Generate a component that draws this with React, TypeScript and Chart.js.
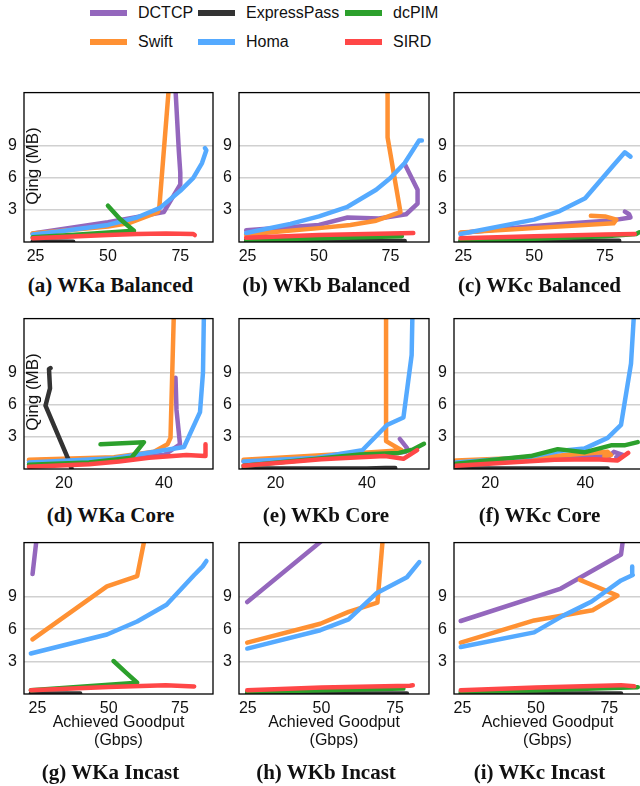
import React, { useEffect, useRef } from 'react';
import { Chart, registerables } from 'chart.js';
Chart.register(...registerables);

type Pt = [number, number];

// ---- series / colours ----
const LEGEND_ROW1 = ['DCTCP', 'ExpressPass', 'dcPIM'];
const LEGEND_ROW2 = ['Swift', 'Homa', 'SIRD'];
const COLORS: Record<string, string> = {
  DCTCP: '#9467bd',
  ExpressPass: '#333333',
  dcPIM: '#2ca02c',
  Swift: '#ff9133',
  Homa: '#55aaff',
  SIRD: '#ff4747',
};
// drawing order: first = on top
const DRAW_ORDER = ['SIRD', 'dcPIM', 'Homa', 'ExpressPass', 'Swift', 'DCTCP'];

// ---- tick labels ----
const GOODPUT_TICKS = [25, 50, 75];
const CORE_TICKS = [20, 40];
const QUEUE_TICKS = [3, 6, 9];

// ---- data: [achieved goodput (Gbps), Qing (MB)] ----
const wkaBalanced: Record<string, Pt[]> = {
  DCTCP: [[24, 0.8], [50, 1.85], [69.3, 2.8], [75, 5.4], [75, 6.5], [74.5, 8.5], [73.2, 15]],
  ExpressPass: [[24, 0.05], [30, 0.05], [38, 0.03]],
  dcPIM: [[24, 0.45], [40, 0.7], [59, 1.05], [57, 1.5], [54, 2.2], [50, 3.4]],
  Swift: [[24, 0.8], [50, 1.45], [57, 1.75], [67.3, 2.8], [67.8, 3.4], [71.2, 15]],
  Homa: [[24, 0.7], [35, 1.05], [50, 1.6], [60, 2.3], [68, 3.2], [75, 4.8], [79.5, 6.0], [82.5, 7.4], [84, 8.6], [83.5, 8.8]],
  SIRD: [[24, 0.35], [40, 0.55], [50, 0.65], [60, 0.75], [70, 0.8], [79.5, 0.75], [80, 0.65]],
};
const wkbBalanced: Record<string, Pt[]> = {
  DCTCP: [[24.5, 1.1], [50, 1.6], [60, 2.3], [71, 2.2], [80.5, 2.6], [84.5, 3.6], [84.5, 4.9], [80, 7.3]],
  ExpressPass: [[24.5, 0.05], [50, 0.05], [75, 0.1], [80, 0.1]],
  dcPIM: [[24.5, 0.2], [50, 0.35], [79, 0.55]],
  Swift: [[24.5, 0.7], [50, 1.3], [61, 1.6], [70, 2.0], [78.5, 2.8], [74, 9.8], [74, 15]],
  Homa: [[24.5, 0.85], [40, 1.7], [50, 2.4], [60, 3.3], [70, 4.9], [75, 6.0], [80, 7.4], [85, 9.5], [86, 9.5]],
  SIRD: [[24.5, 0.4], [50, 0.65], [75, 0.8], [83, 0.85]],
};
const wkcBalanced: Record<string, Pt[]> = {
  DCTCP: [[24, 0.85], [50, 1.5], [78, 2.05], [84, 2.3], [83.5, 2.6], [82, 2.85]],
  ExpressPass: [[24, 0.05], [60, 0.05], [73, 0.12], [80, 0.12]],
  dcPIM: [[24, 0.15], [50, 0.3], [75, 0.55], [86, 0.75], [87, 0.9]],
  Swift: [[24, 0.9], [50, 1.3], [78, 1.75], [79, 2.1], [75, 2.4], [70, 2.45]],
  Homa: [[24, 0.75], [50, 2.1], [59, 2.9], [68, 4.1], [78, 7.2], [82, 8.4], [84, 8.0]],
  SIRD: [[24, 0.35], [50, 0.55], [75, 0.7], [85.5, 0.75]],
};
const wkaCore: Record<string, Pt[]> = {
  DCTCP: [[13, 0.8], [30, 1.0], [40, 1.3], [43.2, 2.3], [42.5, 5.5], [42.3, 8.5]],
  ExpressPass: [[21.5, 0.05], [21, 0.75], [16.3, 5.9], [16.8, 6.8], [17.2, 7.5], [17, 9.3], [17.3, 9.4]],
  dcPIM: [[13, 0.4], [25, 0.6], [33.5, 1.05], [36, 2.5], [27.3, 2.3]],
  Swift: [[13, 0.85], [30, 1.1], [38, 1.6], [40.7, 2.3], [41.3, 2.9], [42, 15]],
  Homa: [[13, 0.6], [30, 1.0], [44, 2.05], [47.2, 5.3], [47.8, 9], [48, 15]],
  SIRD: [[13, 0.2], [25, 0.45], [31, 0.7], [37, 1.05], [44.5, 1.3], [48.2, 1.2], [48.3, 2.3]],
};
const wkbCore: Record<string, Pt[]> = {
  DCTCP: [[13, 0.7], [30, 1.0], [45, 1.4], [48.5, 1.6], [48.8, 1.95], [47.2, 2.8]],
  ExpressPass: [[13, 0.05], [40, 0.05], [44, 0.1], [46.2, 0.1]],
  dcPIM: [[13, 0.3], [28, 0.9], [38.5, 1.35], [47, 1.5], [50, 1.8], [52.5, 2.35]],
  Swift: [[13, 0.85], [38.5, 1.5], [47.6, 1.75], [44.2, 2.6], [44.2, 15]],
  Homa: [[13, 0.7], [29, 1.05], [39, 1.75], [44.4, 4.1], [48, 4.8], [49.8, 10.6], [50, 15]],
  SIRD: [[13, 0.3], [30, 0.9], [38.5, 1.1], [44, 1.2], [48, 0.95], [51, 1.75]],
};
const wkcCore: Record<string, Pt[]> = {
  DCTCP: [[13, 0.6], [30, 0.9], [45, 1.2], [46, 1.6], [48, 1.3], [46.5, 1.1]],
  ExpressPass: [[13, 0.05], [40, 0.05], [44.7, 0.05]],
  dcPIM: [[12.8, 0.5], [28.5, 1.2], [34.2, 1.85], [39.8, 1.55], [45.4, 2.2], [48.2, 2.2], [51, 2.5]],
  Swift: [[12.8, 0.8], [30, 1.1], [44.7, 1.6], [45.4, 1.3], [44, 1.2]],
  Homa: [[12.8, 0.6], [28.6, 1.15], [35, 1.7], [39.8, 1.9], [44.7, 2.9], [47.5, 4.1], [49.6, 9.8], [50.3, 15]],
  SIRD: [[12.8, 0.3], [33.5, 0.85], [42, 0.9], [46.8, 0.8], [49, 1.5]],
};
const wkaIncast: Record<string, Pt[]> = {
  DCTCP: [[23.3, 11.1], [25, 15]],
  ExpressPass: [[22.7, 0.05], [40, 0.05]],
  dcPIM: [[22.7, 0.35], [60, 1.05], [56, 2.0], [51.7, 3.05]],
  Swift: [[23.3, 5.05], [49.4, 9.95], [60, 10.9], [63.1, 15]],
  Homa: [[22.7, 3.75], [49.4, 5.5], [60, 6.7], [70.3, 8.25], [80, 11], [83, 11.8], [84.3, 12.3]],
  SIRD: [[22.7, 0.35], [50, 0.65], [70, 0.82], [80, 0.7]],
};
const wkbIncast: Record<string, Pt[]> = {
  DCTCP: [[24.8, 8.5], [53.8, 15]],
  ExpressPass: [[24.8, 0.05], [79, 0.05]],
  dcPIM: [[24.8, 0.2], [50, 0.35], [77.8, 0.5]],
  Swift: [[24.8, 4.75], [49.6, 6.5], [59.2, 7.6], [69, 8.45], [71, 15]],
  Homa: [[24.8, 4.2], [49.6, 5.9], [59.2, 6.9], [68.8, 9.35], [79, 10.8], [83.2, 12.2]],
  SIRD: [[24.8, 0.35], [50, 0.6], [80, 0.77], [81, 0.8]],
};
const wkcIncast: Record<string, Pt[]> = {
  DCTCP: [[24.4, 6.75], [58.5, 9.75], [79, 12.9], [80, 15]],
  ExpressPass: [[24.4, 0.05], [79, 0.05]],
  dcPIM: [[24.4, 0.2], [50, 0.35], [84.7, 0.63]],
  Swift: [[24.4, 4.75], [49.4, 6.8], [69.3, 7.75], [77.8, 9.1], [65, 10.55]],
  Homa: [[24.4, 4.35], [49.4, 5.7], [59, 7.2], [69, 8.55], [79, 10.5], [83, 11], [82.8, 11.8]],
  SIRD: [[24.4, 0.35], [50, 0.6], [79, 0.82], [83.5, 0.72]],
};

// ---- layout ----
const COL_L = [24, 239, 454];
const COL_R = [213, 429, 641];
const ROW_T = [80, 306, 530];
const ROW_B = [242, 469, 694];
const CAPTION_Y = [285, 515, 772];
const Y_AXIS_W = 30;
const PAD = 4;

interface PanelSpec {
  caption: string;
  data: Record<string, Pt[]>;
  col: number;
  row: number;
  xMin: number;
  xMax: number;
  xTicks: number[];
  yLabel?: boolean;
  xTitle?: boolean;
}

const PANELS: PanelSpec[] = [
  { caption: '(a) WKa Balanced', data: wkaBalanced, col: 0, row: 0, xMin: 21, xMax: 86.3, xTicks: GOODPUT_TICKS, yLabel: true },
  { caption: '(b) WKb Balanced', data: wkbBalanced, col: 1, row: 0, xMin: 22, xMax: 88.5, xTicks: GOODPUT_TICKS },
  { caption: '(c) WKc Balanced', data: wkcBalanced, col: 2, row: 0, xMin: 21.7, xMax: 87.7, xTicks: GOODPUT_TICKS },
  { caption: '(d) WKa Core', data: wkaCore, col: 0, row: 1, xMin: 12, xMax: 49.8, xTicks: CORE_TICKS, yLabel: true },
  { caption: '(e) WKb Core', data: wkbCore, col: 1, row: 1, xMin: 12, xMax: 53.6, xTicks: CORE_TICKS },
  { caption: '(f) WKc Core', data: wkcCore, col: 2, row: 1, xMin: 12.4, xMax: 51.7, xTicks: CORE_TICKS },
  { caption: '(g) WKa Incast', data: wkaIncast, col: 0, row: 2, xMin: 20.3, xMax: 86.6, xTicks: GOODPUT_TICKS, xTitle: true },
  { caption: '(h) WKb Incast', data: wkbIncast, col: 1, row: 2, xMin: 22, xMax: 86.5, xTicks: GOODPUT_TICKS, xTitle: true },
  { caption: '(i) WKc Incast', data: wkcIncast, col: 2, row: 2, xMin: 22.1, xMax: 85.8, xTicks: GOODPUT_TICKS, xTitle: true },
];

const SANS = '"Liberation Sans", Arial, Helvetica, sans-serif';
const SERIF = '"Liberation Serif", "Times New Roman", serif';

const boxPlugin = {
  id: 'axesBox',
  afterDatasetsDraw(chart: any) {
    const { ctx, chartArea: a } = chart;
    ctx.save();
    ctx.strokeStyle = '#000';
    ctx.lineWidth = 1.3;
    ctx.strokeRect(a.left, a.top, a.right - a.left, a.bottom - a.top);
    ctx.restore();
  },
};

function Panel({ spec }: { spec: PanelSpec }) {
  const ref = useRef<HTMLCanvasElement>(null);
  const L = COL_L[spec.col];
  const R = COL_R[spec.col];
  const T = ROW_T[spec.row];
  const B = ROW_B[spec.row];
  const bottomH = spec.xTitle ? 56 : 26;
  const width = R - L + Y_AXIS_W + PAD;
  const height = B - T + PAD + bottomH;

  useEffect(() => {
    if (!ref.current) return;
    const datasets = DRAW_ORDER.map((name) => ({
      label: name,
      data: spec.data[name].map(([x, y]) => ({ x, y })),
      borderColor: COLORS[name],
      backgroundColor: COLORS[name],
      borderWidth: 4.5,
      pointRadius: 0,
      tension: 0,
      fill: false,
      clip: 0,
      borderCapStyle: 'round',
      borderJoinStyle: 'round',
    }));
    const chart = new Chart(ref.current, {
      type: 'line',
      data: { datasets } as any,
      options: {
        animation: false,
        responsive: false,
        devicePixelRatio: 1,
        layout: { padding: { left: 0, top: PAD, right: PAD, bottom: 0 } },
        plugins: { legend: { display: false }, tooltip: { enabled: false } },
        scales: {
          x: {
            type: 'linear',
            min: spec.xMin,
            max: spec.xMax,
            afterBuildTicks: (s: any) => {
              s.ticks = spec.xTicks.map((v) => ({ value: v }));
            },
            afterFit: (s: any) => {
              s.height = bottomH;
            },
            grid: { display: false, drawTicks: false },
            border: { display: false },
            ticks: {
              font: { family: SANS, size: 16 },
              color: '#111',
              padding: 5,
              autoSkip: false,
              maxRotation: 0,
            },
            title: {
              display: !!spec.xTitle,
              text: ['Achieved Goodput', '(Gbps)'],
              font: { family: SANS, size: 16, lineHeight: 1.15 },
              color: '#111',
              padding: { top: 0, bottom: 0 },
            },
          },
          y: {
            type: 'linear',
            min: 0,
            max: 14,
            afterBuildTicks: (s: any) => {
              s.ticks = QUEUE_TICKS.map((v) => ({ value: v }));
            },
            afterFit: (s: any) => {
              s.width = Y_AXIS_W;
            },
            grid: { color: '#d0d0d0', lineWidth: 1.5, drawTicks: false },
            border: { display: false },
            ticks: { font: { family: SANS, size: 16 }, color: '#111', padding: 7 },
          },
        },
      } as any,
      plugins: [boxPlugin],
    });
    return () => chart.destroy();
  }, []);

  const capCenter = (L + R) / 2 - 8;
  return (
    <>
      <canvas
        ref={ref}
        width={width}
        height={height}
        style={{ position: 'absolute', left: L - Y_AXIS_W, top: T - PAD, width, height }}
      />
      {spec.yLabel && (
        <div
          style={{
            position: 'absolute',
            left: L + 9 - 60,
            top: T + 86 - 10,
            width: 120,
            height: 20,
            lineHeight: '20px',
            textAlign: 'center',
            fontFamily: SANS,
            fontSize: 17,
            color: '#111',
            transform: 'rotate(-90deg)',
            transformOrigin: '60px 10px',
            whiteSpace: 'nowrap',
          }}
        >
          Qing (MB)
        </div>
      )}
      <div
        style={{
          position: 'absolute',
          left: capCenter - 120,
          width: 240,
          top: CAPTION_Y[spec.row] - 12,
          height: 24,
          lineHeight: '24px',
          textAlign: 'center',
          fontFamily: SERIF,
          fontWeight: 'bold',
          fontSize: 21,
          color: '#111',
          whiteSpace: 'nowrap',
        }}
      >
        {spec.caption}
      </div>
    </>
  );
}

const LEGEND_X = [90, 198, 345];
const LEGEND_Y = [13, 42];

function Legend() {
  const rows = [LEGEND_ROW1, LEGEND_ROW2];
  return (
    <>
      {rows.map((row, ri) =>
        row.map((name, ci) => (
          <div key={name} style={{ position: 'absolute', left: LEGEND_X[ci], top: LEGEND_Y[ri] - 10, height: 20 }}>
            <div
              style={{
                position: 'absolute',
                left: 0,
                top: 7,
                width: 37,
                height: 6,
                background: COLORS[name],
              }}
            />
            <div
              style={{
                position: 'absolute',
                left: 48,
                top: 0,
                lineHeight: '20px',
                fontFamily: SANS,
                fontSize: 16,
                color: '#111',
                whiteSpace: 'nowrap',
              }}
            >
              {name}
            </div>
          </div>
        ))
      )}
    </>
  );
}

export default function App() {
  return (
    <div
      style={{
        position: 'absolute',
        left: 0,
        top: 0,
        width: 640,
        height: 786,
        overflow: 'hidden',
        background: '#fff',
      }}
    >
      <Legend />
      {PANELS.map((p) => (
        <Panel key={p.caption} spec={p} />
      ))}
    </div>
  );
}
